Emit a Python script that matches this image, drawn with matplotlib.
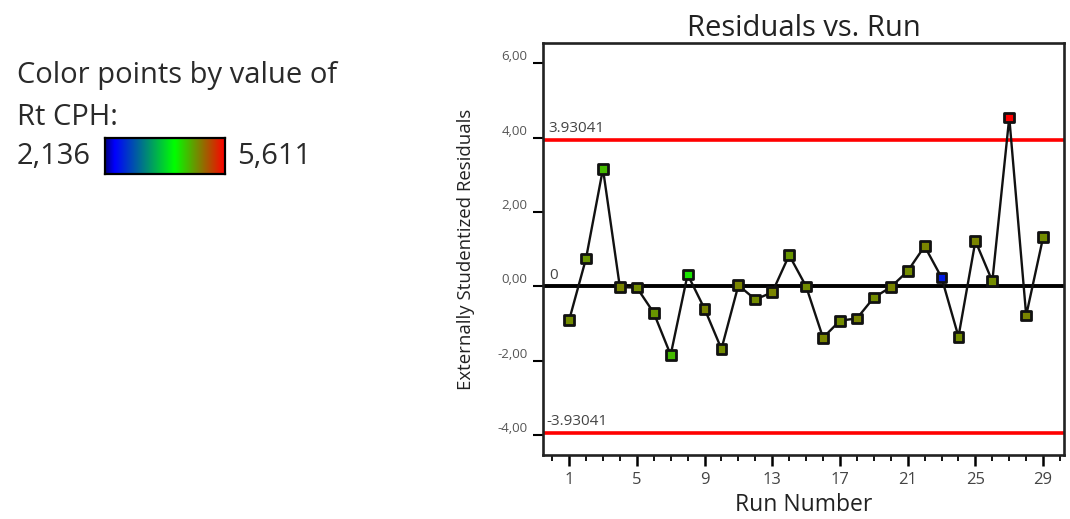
import matplotlib
matplotlib.use("Agg")
import matplotlib.pyplot as plt
import matplotlib.transforms as mtransforms
from matplotlib.colors import LinearSegmentedColormap, Normalize
from matplotlib.ticker import MultipleLocator, FixedLocator
import numpy as np

plt.rcParams['font.family'] = ['Open Sans', 'DejaVu Sans']

# Run order and externally studentized residuals
runs = list(range(1, 30))
residuals = [-0.91, 0.75, 3.16, -0.02, -0.03, -0.71, -1.84, 0.32, -0.60, -1.68,
             0.03, -0.35, -0.16, 0.84, 0.00, -1.38, -0.92, -0.86, -0.30, -0.02,
             0.41, 1.08, 0.24, -1.35, 1.22, 0.14, 4.54, -0.78, 1.32]
# Response used to colour the points
rt_cph = [4.80, 4.75, 4.55, 4.85, 4.80, 4.75, 4.55, 4.30, 4.85, 4.80,
          4.85, 4.80, 4.85, 4.75, 4.80, 4.85, 4.80, 4.85, 4.80, 4.85,
          4.80, 4.85, 2.60, 4.80, 4.85, 4.80, 5.611, 4.85, 4.80]
rt_min, rt_max = 2.136, 5.611
limit = 3.93041
y_ticks = [-4, -2, 0, 2, 4, 6]
x_ticks = [1, 5, 9, 13, 17, 21, 25, 29]

cmap = LinearSegmentedColormap.from_list(
    "bgr", [(0.0, "#000080"), (0.08, "#0000ff"), (0.58, "#00ff00"), (1.0, "#ff0000")])
norm = Normalize(rt_min, rt_max)

fig = plt.figure(figsize=(10.70, 5.19), dpi=100)

# Colour legend on the left
txt_kw = dict(fontsize=21, color="#2a2a2a", va="center", ha="left")
fig.text(0.016, 0.855, "Color points by value of", **txt_kw)
fig.text(0.016, 0.773, "Rt CPH:", **txt_kw)
fig.text(0.016, 0.698, "2,136", **txt_kw)
fig.text(0.222, 0.698, "5,611", **txt_kw)
cax = fig.add_axes([0.098, 0.664, 0.112, 0.070])
cax.imshow(np.linspace(0, 1, 256)[None, :], aspect="auto", cmap=cmap,
           extent=[0, 1, 0, 1])
cax.set_xticks([])
cax.set_yticks([])
for sp in cax.spines.values():
    sp.set_linewidth(1.6)
    sp.set_color("black")

# Residuals vs. run plot
ax = fig.add_axes([0.5075, 0.1233, 0.4870, 0.7938])
ax.set_xlim(-0.54, 30.24)
ax.set_ylim(-4.53, 6.54)

ax.axhline(limit, color="#ff0000", lw=2.6, zorder=2)
ax.axhline(-limit, color="#ff0000", lw=2.6, zorder=2)
ax.axhline(0, color="black", lw=2.8, zorder=2)

ax.plot(runs, residuals, color="#111111", lw=1.7, zorder=3)
ax.scatter(runs, residuals, c=rt_cph, cmap=cmap, norm=norm, marker="s", s=50,
           edgecolors="#111111", linewidths=2.0, zorder=4)

lbl_kw = dict(fontsize=11, color="#444444", ha="left", va="bottom")
ax.text(-0.25, limit + 0.1, f"{limit:.5f}", **lbl_kw)
ax.text(-0.35, -limit + 0.1, f"{-limit:.5f}", **lbl_kw)
ax.text(-0.15, 0.1, "0", **lbl_kw)

ax.set_title("Residuals vs. Run", fontsize=21, color="#222222", pad=3)
ax.set_xlabel("Run Number", fontsize=16.5, color="#222222", labelpad=4)
ax.set_ylabel("Externally Studentized Residuals", fontsize=13.4, color="#222222",
              labelpad=16)

ax.xaxis.set_major_locator(FixedLocator(x_ticks))
ax.xaxis.set_minor_locator(MultipleLocator(1))
ax.yaxis.set_major_locator(FixedLocator(y_ticks))
ax.set_yticklabels([f"{v:.2f}".replace(".", ",") for v in y_ticks])
ax.tick_params(axis="x", which="major", direction="out", length=8, width=1.8,
               labelsize=12, labelcolor="#444444", pad=4)
ax.tick_params(axis="x", which="minor", direction="out", length=4, width=1.3)
ax.tick_params(axis="y", which="major", direction="out", length=7, width=1.5,
               labelsize=9.5, labelcolor="#555555", pad=4)

# y tick labels sit slightly above their ticks
offset = mtransforms.ScaledTranslation(0, 8 / 100, fig.dpi_scale_trans)
for lab in ax.get_yticklabels():
    lab.set_transform(lab.get_transform() + offset)

for sp in ax.spines.values():
    sp.set_linewidth(1.9)
    sp.set_color("#222222")

fig.savefig("out.png", dpi=100)
